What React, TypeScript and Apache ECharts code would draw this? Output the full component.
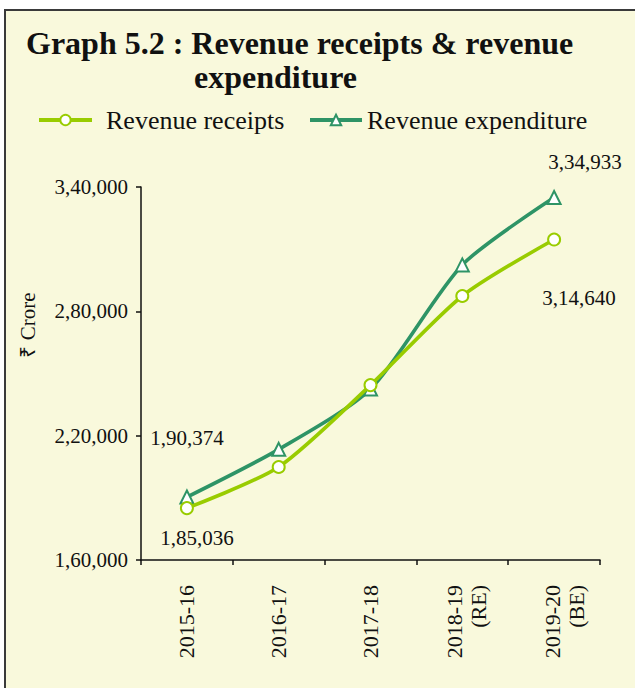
import React, { useEffect, useRef } from "react";
import * as echarts from "echarts";

const categories = ["2015-16", "2016-17", "2017-18", "2018-19\n(RE)", "2019-20\n(BE)"];
const revenueReceipts = [185036, 204900, 244400, 287400, 314640];
const revenueExpenditure = [190374, 213400, 242500, 302400, 334933];
const yTicks = { min: 160000, max: 340000, interval: 60000 };

const FONT = "'Liberation Serif', 'Times New Roman', serif";

function inr(n: number): string {
  const s = String(Math.round(n));
  if (s.length <= 3) return s;
  const last3 = s.slice(-3);
  let rest = s.slice(0, -3);
  const parts: string[] = [];
  while (rest.length > 2) {
    parts.unshift(rest.slice(-2));
    rest = rest.slice(0, -2);
  }
  if (rest) parts.unshift(rest);
  return parts.join(",") + "," + last3;
}

export default function App() {
  const ref = useRef<HTMLDivElement>(null);
  useEffect(() => {
    if (!ref.current) return;
    const chart = echarts.init(ref.current, undefined, { renderer: "svg" });
    const lbl = (position: string, offset: number[]) => ({
      show: true,
      position,
      offset,
      color: "#111",
      fontSize: 21,
      fontFamily: FONT,
      formatter: (p: any) => inr(p.value),
    });
    const recData = revenueReceipts.map((v, i) => {
      if (i === 0) return { value: v, label: lbl("bottom", [10, 7]) };
      if (i === revenueReceipts.length - 1) return { value: v, label: lbl("bottom", [25, 36]) };
      return v;
    });
    const expData = revenueExpenditure.map((v, i) => {
      if (i === 0) return { value: v, label: lbl("top", [0, -36]) };
      if (i === revenueExpenditure.length - 1) return { value: v, label: lbl("top", [31, -13]) };
      return v;
    });
    const legendText = { fontSize: 26, fontFamily: FONT, color: "#111" };
    chart.setOption({
      animation: false,
      backgroundColor: "#ffffff",
      graphic: [
        {
          type: "rect",
          z: -10,
          silent: true,
          shape: { x: 5, y: 10, width: 660, height: 720 },
          style: { fill: "#F9F9DC", stroke: "#3a3a3a", lineWidth: 2 },
        },
        {
          type: "text",
          left: 26,
          top: 27,
          style: {
            text: "Graph 5.2 : Revenue receipts & revenue",
            font: `bold 32px ${FONT}`,
            fill: "#111",
          },
        },
        {
          type: "text",
          left: 194,
          top: 61,
          style: {
            text: "expenditure",
            font: `bold 32px ${FONT}`,
            fill: "#111",
          },
        },
        {
          type: "text",
          x: 28,
          y: 325,
          rotation: Math.PI / 2,
          style: {
            text: "₹ Crore",
            font: `21px ${FONT}`,
            fill: "#111",
            align: "center",
            verticalAlign: "middle",
          },
        },
      ],
      legend: [
        {
          left: 37,
          top: 107,
          padding: 0,
          itemWidth: 53,
          itemHeight: 13,
          lineStyle: { width: 4 },
          textStyle: { ...legendText, padding: [0, 0, 0, 9] },
          data: ["Revenue receipts"],
        },
        {
          left: 308,
          top: 107,
          padding: 0,
          itemWidth: 52,
          itemHeight: 13,
          lineStyle: { width: 4 },
          textStyle: legendText,
          data: ["Revenue expenditure"],
        },
      ],
      grid: { left: 141, right: 35, top: 187, bottom: 128, containLabel: false },
      xAxis: {
        type: "category",
        data: categories,
        boundaryGap: true,
        axisLine: { lineStyle: { color: "#111", width: 1.5 } },
        axisTick: { show: true, length: 5, lineStyle: { color: "#111", width: 1.5 } },
        axisLabel: {
          rotate: 90,
          interval: 0,
          margin: 25,
          fontSize: 22,
          fontFamily: FONT,
          color: "#111",
          lineHeight: 24,
          formatter: (v: string, i: number) => {
            if (v.indexOf("\n") < 0) return v;
            return (i === 3 ? "{a| }\n" : "{b| }\n") + v;
          },
          rich: {
            a: { fontSize: 8, lineHeight: 9 },
            b: { fontSize: 8, lineHeight: 20 },
          },
        },
      },
      yAxis: {
        type: "value",
        min: yTicks.min,
        max: yTicks.max,
        interval: yTicks.interval,
        splitLine: { show: false },
        axisLine: { show: true, lineStyle: { color: "#111", width: 1.5 } },
        axisTick: { show: true, length: 5, lineStyle: { color: "#111", width: 1.5 } },
        axisLabel: {
          margin: 13,
          fontSize: 21,
          fontFamily: FONT,
          color: "#111",
          formatter: (v: number) => inr(v),
        },
      },
      series: [
        {
          name: "Revenue receipts",
          type: "line",
          data: recData,
          smooth: 0.25,
          symbol: "emptyCircle",
          symbolSize: 12,
          color: "#99CC00",
          lineStyle: { width: 3.6, color: "#99CC00" },
          itemStyle: { color: "#99CC00", borderWidth: 2 },
          z: 3,
        },
        {
          name: "Revenue expenditure",
          type: "line",
          data: expData,
          smooth: 0.25,
          symbol: "emptyTriangle",
          symbolSize: 13,
          color: "#2E9466",
          lineStyle: { width: 3.6, color: "#2E9466" },
          itemStyle: { color: "#2E9466", borderWidth: 2 },
          z: 2,
        },
      ],
    });
    return () => chart.dispose();
  }, []);
  return (
    <div
      ref={ref}
      style={{ position: "absolute", left: 0, top: 0, width: 635, height: 688 }}
    />
  );
}
